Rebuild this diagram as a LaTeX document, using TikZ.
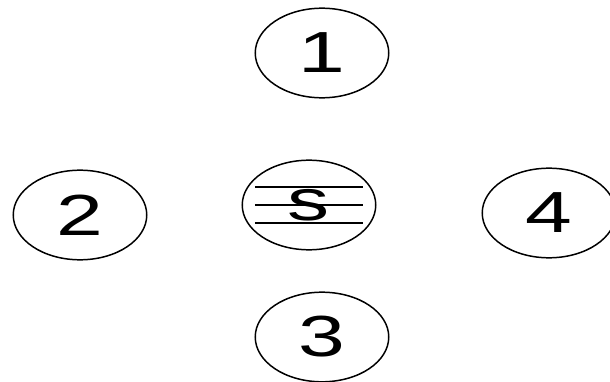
\documentclass[tikz,border=0pt]{standalone}
\usepackage{graphicx}
\usepackage{fontspec}
\setmainfont{Liberation Sans}
\usetikzlibrary{shapes.geometric}
\newcommand{\widelabel}[1]{\scalebox{1.45}[1]{#1}}
\tikzset{
    zone/.style = {
        draw,
        ellipse,
        line width = 0.85pt,
        minimum width = 76pt,
        minimum height = 51pt,
        inner sep = 0pt,
        font = \fontsize{33}{33}\selectfont
    }
}
\begin{document}
\begin{tikzpicture}[x=0.02cm,y=-0.02cm]
            \useasboundingbox (0,0) rectangle (610,382);
            \node[zone] (one) at (322,53) {\widelabel{1}};
            \node[zone] (two) at (80,215) {\widelabel{2}};
            \node[zone] (src) at (309,205) {\widelabel{s}};
            \node[zone] (four) at (549,213) {\widelabel{4}};
            \node[zone] (three) at (322,337) {\widelabel{3}};
            % lines across the s zone
            \foreach \dy in {-18,0,18} {
                \draw[line width=0.85pt] ([shift={(-54,\dy)}]src.center) -- ([shift={(54,\dy)}]src.center);
            }
        \end{tikzpicture}
\end{document}
